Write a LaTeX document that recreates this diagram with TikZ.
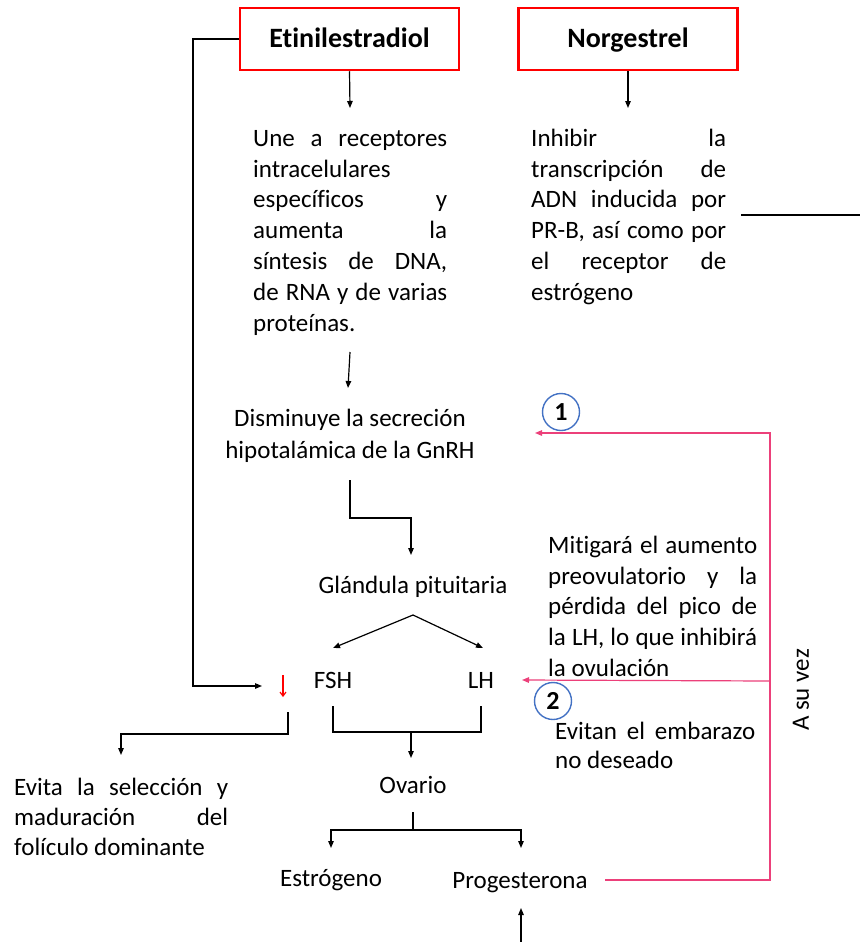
\documentclass[tikz,border=0pt]{standalone}
\usepackage{fontspec}
\setmainfont{Carlito}[Ligatures=NoCommon]
\usetikzlibrary{arrows.meta}
\definecolor{boxred}{RGB}{255,0,0}
\definecolor{pinkln}{RGB}{236,64,122}
\definecolor{circblue}{RGB}{68,114,196}
\newcommand\jl[2]{\makebox[#1][s]{#2}}
\newcommand\fl{\rule{0pt}{20pt}}
\begin{document}
\begin{tikzpicture}[x=1pt,y=-1pt,
  every node/.style={font=\fontsize{25}{30.8}\selectfont, inner sep=0pt},
  drug/.style={draw=boxred, line width=2.5pt, minimum width=219pt, minimum height=62pt,
    text height=18pt, text depth=0pt, font=\fontsize{28}{32}\selectfont\bfseries},
  conn/.style={line width=1.2pt, draw=black},
  arr/.style={conn, -{Triangle[length=7pt,width=5.5pt]}},
  parr/.style={line width=1.2pt, draw=pinkln, -{Triangle[length=7pt,width=5.5pt]}},
  num/.style={circle, draw=circblue, line width=1.4pt, minimum size=37pt,
    font=\fontsize{26}{26}\selectfont\bfseries},
  txt/.style={align=left, anchor=north west},
  lbl/.style={anchor=base}]
\fill[white] (0,0) rectangle (860,942);
\useasboundingbox (0,0) rectangle (860,942);

% drug boxes
\node[drug] (etinil) at (349.5,39) {Etinilestradiol};
\node[drug] (norg) at (628,39) {Norgestrel};

% text blocks
\node[txt] (une) at (253,126) {\fl\jl{194pt}{Une a receptores}\\ intracelulares\\ \jl{194pt}{específicos y}\\ \jl{194pt}{aumenta la}\\ \jl{194pt}{síntesis de DNA,}\\ \jl{194pt}{de RNA y de varias}\\ proteínas.};
\node[txt] (inhib) at (531,126) {\fl\jl{195pt}{Inhibir la}\\ \jl{195pt}{transcripción de}\\ \jl{195pt}{ADN inducida por}\\ \jl{195pt}{PR-B, así como por}\\ \jl{195pt}{el receptor de}\\ estrógeno};
\node[align=center, anchor=north] (dism) at (350,406) {\fl Disminuye la secreción\\[1.2pt] hipotalámica de la GnRH};
\node[lbl] (glan) at (413,593) {Glándula pituitaria};
\node[lbl] (fsh) at (333,688) {FSH};
\node[lbl] (lh) at (481,688) {LH};
\node[txt] (mitig) at (548,533) {\fl\jl{209pt}{Mitigará el aumento}\\ \jl{209pt}{preovulatorio y la}\\ \jl{209pt}{pérdida del pico de}\\ \jl{209pt}{la LH, lo que inhibirá}\\ la ovulación};
\node[txt] (evitan) at (555,719) {\fl\jl{200pt}{Evitan el embarazo}\\[-1.5pt] no deseado};
\node[txt] (evita) at (14,775) {\fl\jl{214pt}{Evita la selección y}\\[-0.8pt] \jl{214pt}{maduración del}\\[-0.8pt] folículo dominante};
\node[lbl] (ovario) at (413,793) {Ovario};
\node[lbl] (estro) at (331,886) {Estrógeno};
\node[lbl] (prog) at (520,888) {Progesterona};
\node[rotate=90] (asuvez) at (801,690) {A su vez};

% numbered circles
\node[num] (n1) at (561,412) {1};
\node[num] (n2) at (553,701) {2};

% coordinates
\coordinate (uneIn) at (350,108);
\coordinate (inhibIn) at (628,108);
\coordinate (dismIn) at (348,388);
\coordinate (glanIn) at (411,555);
\coordinate (fshL) at (333,648);
\coordinate (lhR) at (483,648);
\coordinate (redIn) at (262,686);
\coordinate (evitaIn) at (121,755);
\coordinate (ovarioIn) at (411,758);
\coordinate (estroIn) at (331,848);
\coordinate (progIn) at (521,848);

% black connectors
\draw[arr] (etinil.south) -- (uneIn);
\draw[arr] (norg.south) -- (inhibIn);
\draw[conn] (741,215) -- (860,215);
\draw[arr] (350,352) -- (dismIn);
\draw[arr] (350,480) -- (350,518) -| (glanIn);
\draw[arr] (413,615) -- (fshL);
\draw[arr] (413,615) -- (lhR);
\draw[arr] (etinil.west) -- (193,39) |- (redIn);
\draw[red, line width=1.2pt, -{Straight Barb[length=4pt,width=6pt]}] (283,675) -- (283,697);
\draw[arr] (288,712) -- (288,734) -| (evitaIn);
\draw[conn] (333,706) -- (333,732) -- (481,732) -- (481,706);
\draw[arr] (411,732) -- (ovarioIn);
\draw[arr] (413,812) -- (413,830) -| (estroIn);
\draw[arr] (413,830) -| (progIn);
\draw[arr] (521,942) -- (521,908);

% pink feedback
\draw[parr] (605,880) -- (770,880) -- (770,433) -- (535,433);
\draw[parr] (770,681) -- (522,680);
\end{tikzpicture}
\end{document}
